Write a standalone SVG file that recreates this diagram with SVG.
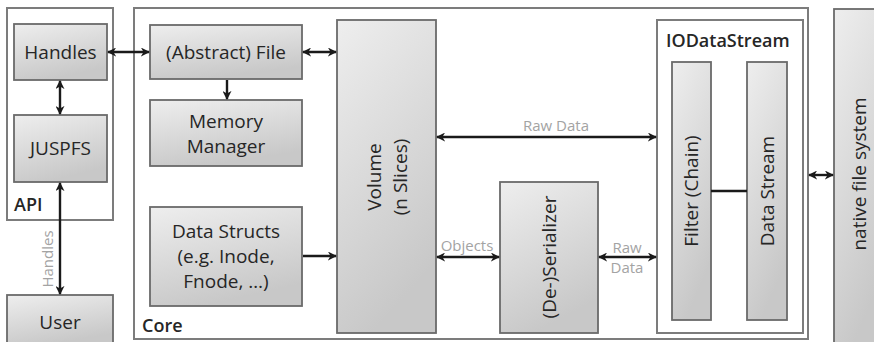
<svg xmlns="http://www.w3.org/2000/svg" width="874" height="342" viewBox="0 0 874 342">
  <defs>
    <linearGradient id="boxFill" x1="0" y1="0" x2="0.35" y2="1">
      <stop offset="0" stop-color="#eeeeee"/>
      <stop offset="1" stop-color="#c8c8c8"/>
    </linearGradient>
    <marker id="head" viewBox="0 0 10 10" refX="9" refY="5" markerWidth="9" markerHeight="9" markerUnits="userSpaceOnUse" orient="auto-start-reverse">
      <path d="M0,0 L10,5 L0,10 L3,5 z" fill="#1a1a1a"/>
    </marker>
  </defs>
  <style>
    .frame { fill: #ffffff; stroke: #7c7c7c; stroke-width: 2; }
    .box { fill: url(#boxFill); stroke: #6a6a6a; stroke-width: 1.8; }
    .lbl { font-family: "Open Sans", "Liberation Sans", sans-serif; font-size: 19px; fill: #262626; }
    .title { font-family: "Open Sans", "Liberation Sans", sans-serif; font-size: 18px; font-weight: 600; fill: #262626; }
    .edge { font-family: "Open Sans", "Liberation Sans", sans-serif; font-size: 15px; fill: #a3a3a3; }
    .wire { fill: none; stroke: #1a1a1a; stroke-width: 2.4; }
    .arrow2 { marker-start: url(#head); marker-end: url(#head); }
    .arrow1 { marker-end: url(#head); }
  </style>

  <rect width="874" height="342" fill="#ffffff"/>

  <!-- container frames -->
  <g id="api">
    <rect class="frame" x="7" y="8" width="106" height="212"/>
    <text class="title" x="14" y="211">API</text>
  </g>
  <g id="core">
    <rect class="frame" x="134" y="8" width="674" height="331"/>
    <text class="title" x="142" y="332">Core</text>
  </g>

  <!-- API nodes -->
  <g id="handles">
    <rect class="box" x="14" y="24" width="93" height="56"/>
    <text class="lbl" x="60.5" y="59" text-anchor="middle">Handles</text>
  </g>
  <g id="juspfs">
    <rect class="box" x="14" y="115" width="93" height="67"/>
    <text class="lbl" x="60.5" y="155" text-anchor="middle">JUSPFS</text>
  </g>
  <g id="user">
    <rect class="box" x="7" y="295" width="106" height="50"/>
    <text class="lbl" x="60" y="329" text-anchor="middle">User</text>
  </g>

  <!-- Core nodes -->
  <g id="abstract-file">
    <rect class="box" x="150" y="25" width="152" height="54"/>
    <text class="lbl" x="226" y="59" text-anchor="middle">(Abstract) File</text>
  </g>
  <g id="memory-manager">
    <rect class="box" x="150" y="100" width="152" height="66"/>
    <text class="lbl" x="226" y="128" text-anchor="middle">Memory</text>
    <text class="lbl" x="226" y="153" text-anchor="middle">Manager</text>
  </g>
  <g id="data-structs">
    <rect class="box" x="150" y="207" width="152" height="99"/>
    <text class="lbl" x="226" y="238" text-anchor="middle">Data Structs</text>
    <text class="lbl" x="226" y="263" text-anchor="middle">(e.g. Inode,</text>
    <text class="lbl" x="226" y="288" text-anchor="middle">Fnode, …)</text>
  </g>
  <g id="volume">
    <rect class="box" x="337" y="20" width="99" height="313"/>
    <text class="lbl" transform="translate(381,177) rotate(-90)" text-anchor="middle">Volume</text>
    <text class="lbl" transform="translate(407,177) rotate(-90)" text-anchor="middle">(n Slices)</text>
  </g>
  <g id="serializer">
    <rect class="box" x="500" y="182" width="98" height="151"/>
    <text class="lbl" transform="translate(556,257) rotate(-90)" text-anchor="middle">(De-)Serializer</text>
  </g>
  <g id="iodatastream">
    <rect class="frame" x="657" y="20" width="146" height="313"/>
    <text class="title" x="666" y="47">IODataStream</text>
    <rect class="box" x="672" y="62" width="39" height="258"/>
    <text class="lbl" transform="translate(698,191) rotate(-90)" text-anchor="middle">Filter (Chain)</text>
    <rect class="box" x="747" y="62" width="40" height="258"/>
    <text class="lbl" transform="translate(774,191) rotate(-90)" text-anchor="middle">Data Stream</text>
  </g>
  <g id="native-fs">
    <rect class="box" x="834" y="9" width="50" height="340"/>
    <text class="lbl" transform="translate(866,174) rotate(-90)" text-anchor="middle">native file system</text>
  </g>

  <!-- connectors -->
  <g id="connectors">
    <line class="wire arrow2" x1="108" y1="52" x2="149" y2="52"/>
    <line class="wire arrow2" x1="60" y1="81" x2="60" y2="114"/>
    <line class="wire arrow2" x1="60" y1="183" x2="60" y2="294"/>
    <line class="wire arrow2" x1="303" y1="52" x2="336" y2="52"/>
    <line class="wire arrow1" x1="227" y1="80" x2="227" y2="99"/>
    <line class="wire arrow1" x1="303" y1="256" x2="336" y2="256"/>
    <line class="wire arrow2" x1="437" y1="137" x2="656" y2="137"/>
    <line class="wire arrow2" x1="437" y1="257" x2="499" y2="257"/>
    <line class="wire arrow2" x1="599" y1="257" x2="656" y2="257"/>
    <line class="wire" x1="711" y1="191" x2="747" y2="191"/>
    <line class="wire arrow2" x1="809" y1="175" x2="833" y2="175"/>

    <text class="edge" transform="translate(53,259) rotate(-90)" text-anchor="middle">Handles</text>
    <text class="edge" x="556" y="131" text-anchor="middle">Raw Data</text>
    <text class="edge" x="467" y="251" text-anchor="middle">Objects</text>
    <text class="edge" x="627" y="253" text-anchor="middle">Raw</text>
    <text class="edge" x="627" y="273" text-anchor="middle">Data</text>
  </g>
</svg>
